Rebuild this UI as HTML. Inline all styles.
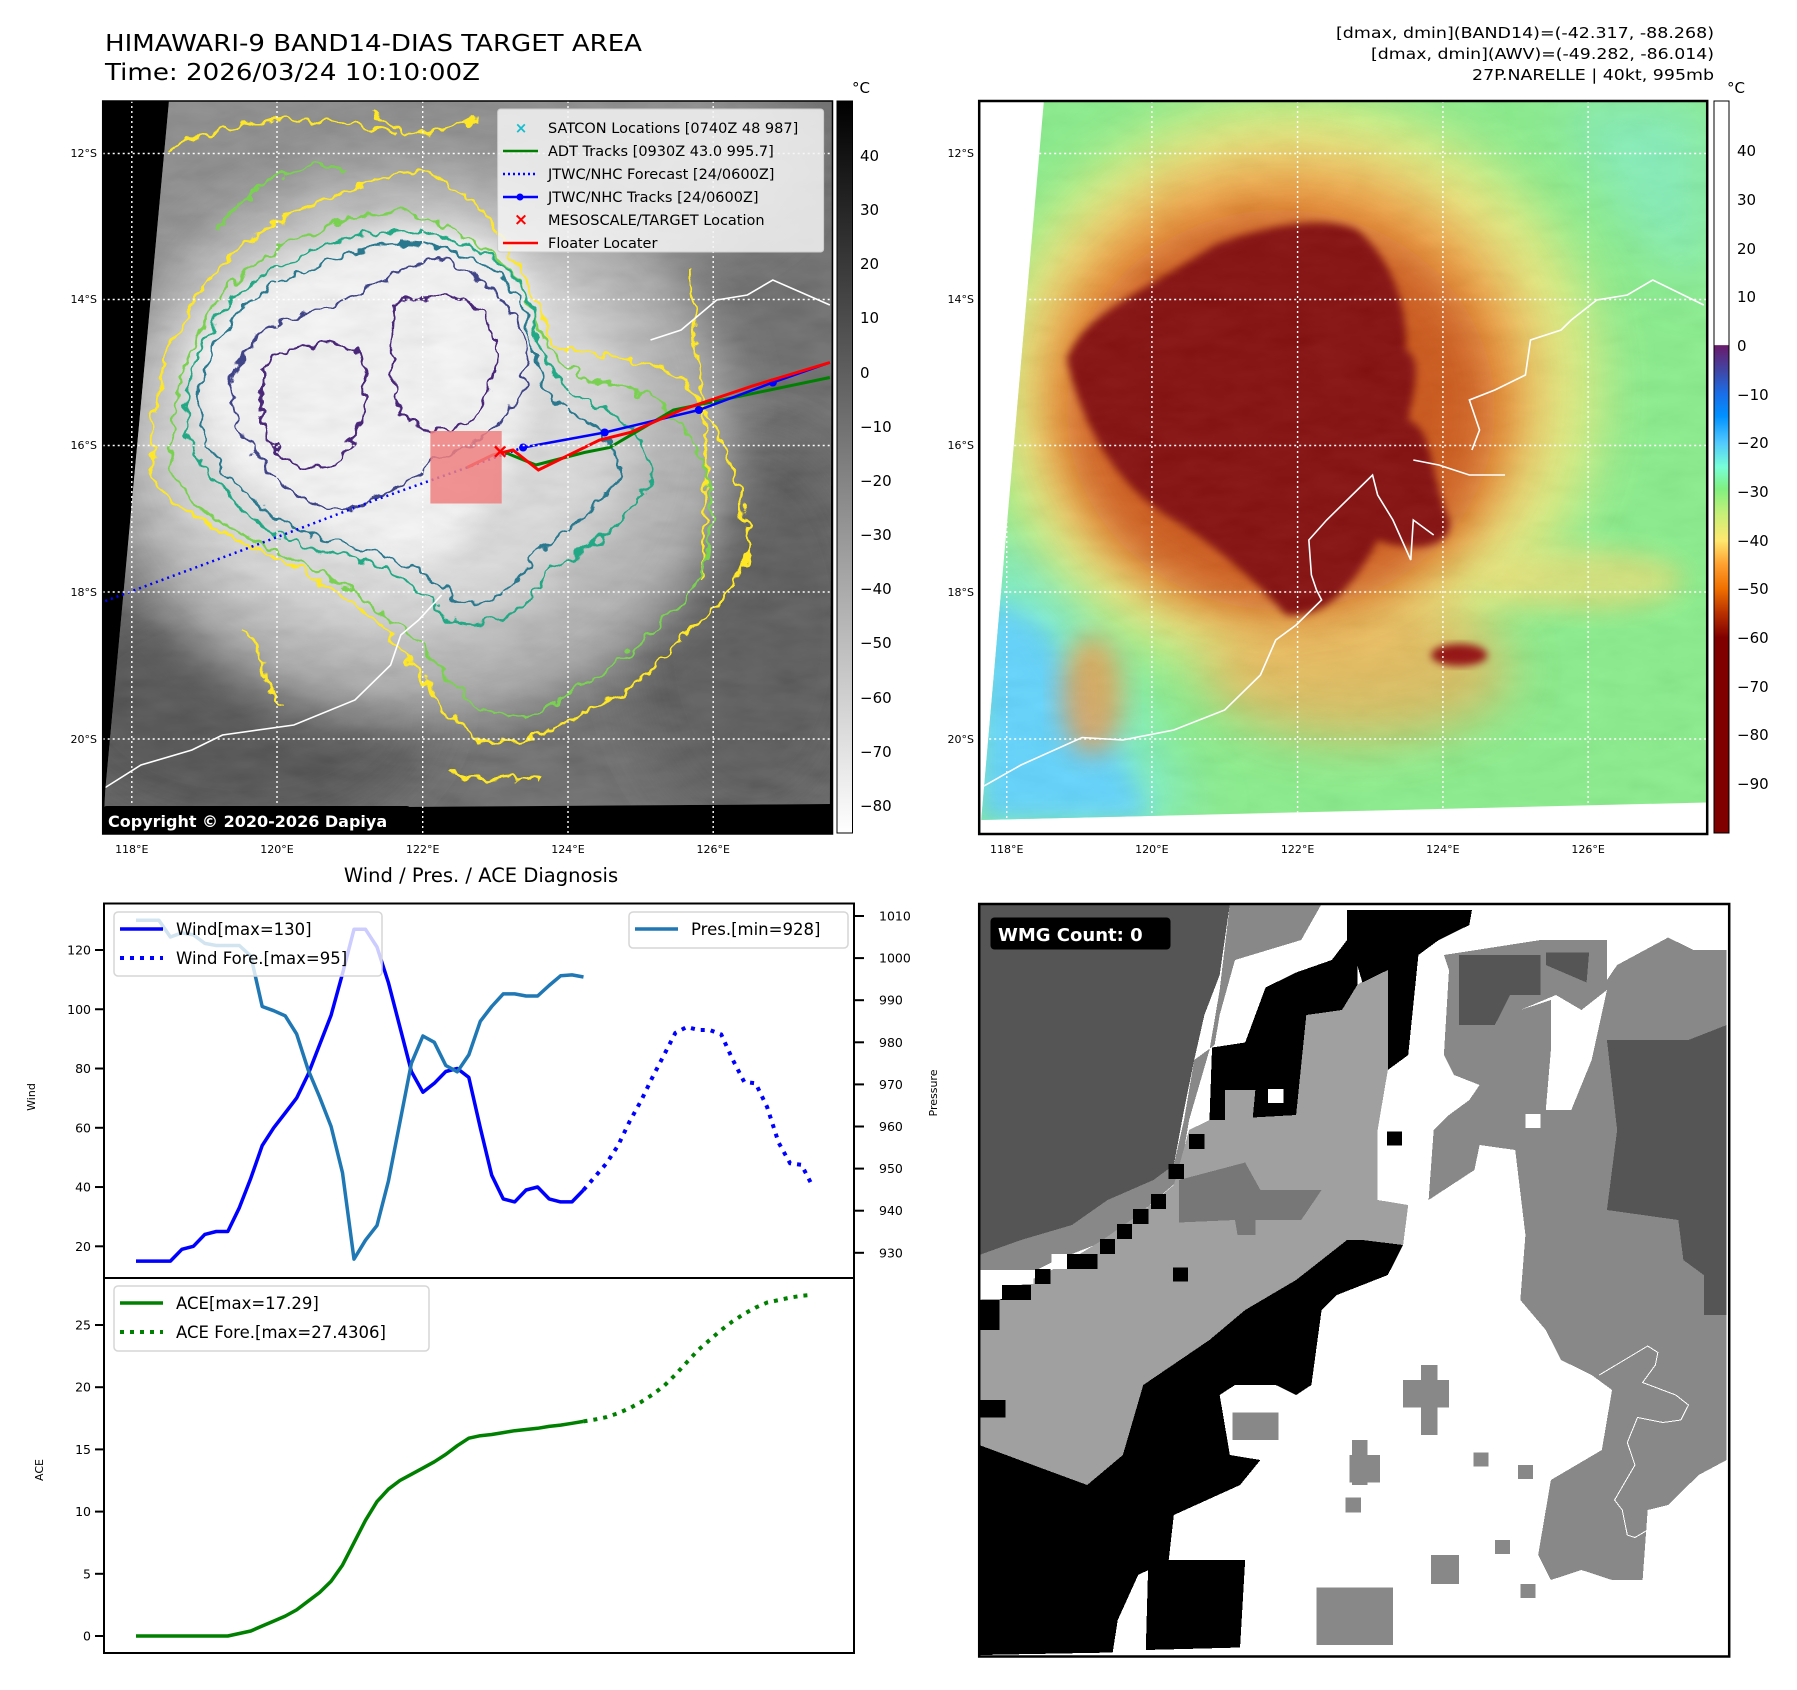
<!DOCTYPE html>
<html><head><meta charset="utf-8"><title>HIMAWARI-9 BAND14 DIAS Target Area</title>
<style>html,body{margin:0;padding:0;background:#fff}svg{display:block}text{font-family:"DejaVu Sans","Liberation Sans",sans-serif}</style></head>
<body>
<svg id="fig" width="1797" height="1690" viewBox="0 0 1797 1690" xmlns="http://www.w3.org/2000/svg">
<defs>
  <filter id="b8" x="-20%" y="-20%" width="140%" height="140%"><feGaussianBlur stdDeviation="8"/></filter>
  <filter id="b25" x="-30%" y="-30%" width="160%" height="160%"><feGaussianBlur stdDeviation="25"/></filter>
  <filter id="b50" x="-40%" y="-40%" width="180%" height="180%"><feGaussianBlur stdDeviation="50"/></filter>
  <filter id="wig" x="-10%" y="-10%" width="120%" height="120%"><feTurbulence type="fractalNoise" baseFrequency="0.035" numOctaves="2" seed="4" result="n"/><feDisplacementMap in="SourceGraphic" in2="n" scale="34" xChannelSelector="R" yChannelSelector="G"/></filter>
  <filter id="tex" x="0" y="0" width="100%" height="100%"><feTurbulence type="fractalNoise" baseFrequency="0.012 0.03" numOctaves="3" seed="7"/><feColorMatrix type="matrix" values="0.33 0.33 0.33 0 0 0.33 0.33 0.33 0 0 0.33 0.33 0.33 0 0 0 0 0 0 1"/></filter>
  <clipPath id="clipL"><polygon points="155,42 1457,42 1452,1448 28,1458 30,1420"/></clipPath>
  <clipPath id="clipR"><polygon points="145,42 1445,42 1445,1445 22,1480"/></clipPath>
  <clipPath id="clipW"><rect x="18" y="28" width="1472" height="1505"/></clipPath>
  <linearGradient id="grayBar" x1="0" y1="0" x2="0" y2="1"><stop offset="0" stop-color="#000"/><stop offset="1" stop-color="#fff"/></linearGradient>
  <linearGradient id="colBar" x1="0" y1="0" x2="0" y2="1">
    <stop offset="0" stop-color="#fff"/><stop offset="0.333" stop-color="#fff"/>
    <stop offset="0.334" stop-color="#6a1a6a"/><stop offset="0.37" stop-color="#3f48a8"/>
    <stop offset="0.40" stop-color="#1a6ee8"/><stop offset="0.43" stop-color="#0090ff"/>
    <stop offset="0.466" stop-color="#50c8ff"/><stop offset="0.50" stop-color="#78ffd8"/>
    <stop offset="0.53" stop-color="#80f080"/><stop offset="0.565" stop-color="#c8f078"/>
    <stop offset="0.60" stop-color="#ffe870"/><stop offset="0.633" stop-color="#ffa030"/>
    <stop offset="0.666" stop-color="#f07000"/><stop offset="0.70" stop-color="#b83000"/>
    <stop offset="0.733" stop-color="#800000"/><stop offset="1" stop-color="#800000"/>
  </linearGradient>
</defs>

<!-- Titles -->
<text x="105" y="51" font-size="23" textLength="537" lengthAdjust="spacingAndGlyphs">HIMAWARI-9 BAND14-DIAS TARGET AREA</text>
<text x="105" y="80" font-size="23" textLength="375" lengthAdjust="spacingAndGlyphs">Time: 2026/03/24 10:10:00Z</text>
<text x="1336" y="38" font-size="15" textLength="378" lengthAdjust="spacingAndGlyphs">[dmax, dmin](BAND14)=(-42.317, -88.268)</text>
<text x="1371" y="59" font-size="15" textLength="343" lengthAdjust="spacingAndGlyphs">[dmax, dmin](AWV)=(-49.282, -86.014)</text>
<text x="1472" y="80" font-size="15" textLength="242" lengthAdjust="spacingAndGlyphs">27P.NARELLE | 40kt, 995mb</text>

<!-- LEFT MAP -->
<g>
<rect x="102.7" y="101" width="729.8" height="733" fill="#000"/>
<g transform="translate(90,80) scale(0.50955,0.5)">
  <g clip-path="url(#clipL)">
    <rect x="0" y="0" width="1500" height="1500" fill="#626262"/>
    <ellipse cx="600" cy="150" rx="800" ry="300" fill="#858585" filter="url(#b50)"/>
    <ellipse cx="300" cy="1250" rx="380" ry="260" fill="#444" filter="url(#b50)"/>
    <ellipse cx="1300" cy="1100" rx="250" ry="400" fill="#505050" filter="url(#b50)"/>
    <ellipse cx="640" cy="720" rx="620" ry="560" fill="#b0b0b0" filter="url(#b50)"/>
    <ellipse cx="600" cy="690" rx="470" ry="420" fill="#dedede" filter="url(#b50)"/>
    <path d="M200,560 C230,430 400,370 520,320 C650,270 780,300 840,380 C880,460 880,560 860,640 C830,760 760,900 680,960 C600,1000 500,930 420,880 C300,820 210,720 200,560 Z" fill="#fbfbfb" filter="url(#b25)"/>
    <rect x="0" y="0" width="1500" height="1500" filter="url(#tex)" opacity="0.18"/>
    <g filter="url(#wig)" fill="none" stroke-linejoin="round">
      <path d="M125,790 C110,600 180,430 300,330 C400,250 500,230 560,200 C650,160 700,200 760,250 C820,330 880,420 900,520 C960,560 1080,540 1170,600 C1230,700 1300,820 1290,960 C1250,1050 1130,1140 1060,1220 C960,1260 900,1320 800,1330 C700,1300 660,1200 580,1100 C480,1000 380,960 300,930 C230,880 160,860 125,790 Z M150,140 C300,60 500,70 600,110 M550,60 C650,150 700,90 760,80 M1180,380 C1200,600 1220,800 1200,1000 M300,1100 C360,1160 320,1200 380,1250 M700,1380 C760,1420 820,1380 880,1400" stroke="#fde725" stroke-width="2.6" vector-effect="non-scaling-stroke"/>
      <path d="M160,780 C150,600 220,450 320,370 C420,300 520,270 600,260 C700,280 800,340 850,420 C880,500 900,560 980,600 C1080,600 1160,660 1200,760 C1240,880 1220,980 1150,1060 C1060,1150 980,1200 880,1270 C800,1290 720,1250 680,1160 C600,1080 500,1000 380,950 C280,900 190,860 160,780 Z M250,300 C320,200 420,150 500,180" stroke="#7ad151" stroke-width="2.4" vector-effect="non-scaling-stroke"/>
      <path d="M190,700 C180,560 250,440 360,380 C460,320 560,300 640,300 C740,320 820,360 860,440 C880,520 900,600 960,640 C1040,660 1100,720 1100,800 C1060,880 980,940 900,980 C860,1060 780,1110 700,1080 C640,1000 560,960 440,940 C320,900 220,800 190,700 Z" stroke="#22a884" stroke-width="2.4" vector-effect="non-scaling-stroke"/>
      <path d="M215,680 C210,560 270,460 380,400 C480,350 570,320 650,330 C750,340 820,390 850,460 C870,540 880,600 920,650 C980,680 1040,720 1040,790 C1000,860 940,900 880,940 C840,1020 780,1060 720,1040 C660,980 580,940 460,920 C340,880 240,790 215,680 Z" stroke="#2a788e" stroke-width="2.4" vector-effect="non-scaling-stroke"/>
      <path d="M280,600 C300,500 400,470 480,450 C560,420 600,370 680,360 C780,380 850,470 860,560 C860,640 800,700 740,730 C680,760 620,800 560,840 C480,880 410,840 360,790 C300,720 270,670 280,600 Z" stroke="#414487" stroke-width="2.4" vector-effect="non-scaling-stroke"/>
      <path d="M340,580 C370,530 450,520 520,540 C560,600 540,700 480,770 C420,790 360,760 340,690 Z M600,450 C660,420 740,430 780,470 C810,540 800,630 740,690 C680,710 620,700 600,640 C590,560 585,500 600,450 Z" stroke="#482878" stroke-width="2.4" vector-effect="non-scaling-stroke"/>
    </g>
    <path d="M30,1415 L100,1370 L200,1340 L260,1310 L400,1290 L520,1240 L590,1170 L610,1110 L645,1080 L690,1030 M1100,520 L1160,500 L1230,440 L1290,430 L1340,400 L1452,450" fill="none" stroke="#fff" stroke-width="1.6" vector-effect="non-scaling-stroke"/>
  </g>
  <polyline points="30,1042 300,940 560,840 740,775 850,735" fill="none" stroke="#0000ff" stroke-width="2.5" stroke-dasharray="2,4" vector-effect="non-scaling-stroke"/>
  <polyline points="815,745 875,770 970,745 1020,735 1145,660 1452,595" fill="none" stroke="#008000" stroke-width="3" vector-effect="non-scaling-stroke"/>
  <polyline points="850,735 1010,705 1195,660 1340,605 1452,565" fill="none" stroke="#0000ff" stroke-width="2.5" vector-effect="non-scaling-stroke"/>
  <g fill="#0000ff"><ellipse cx="1010" cy="705" rx="8" ry="8"/><ellipse cx="1195" cy="660" rx="8" ry="8"/><ellipse cx="1340" cy="605" rx="8" ry="8"/><ellipse cx="850" cy="735" rx="8" ry="8"/></g>
  <polyline points="740,775 790,750 830,740 880,780 1000,720 1060,705 1160,660 1300,612 1452,565" fill="none" stroke="#ff0000" stroke-width="3" vector-effect="non-scaling-stroke"/>
  <rect x="668" y="702" width="140" height="145" fill="#f08080" opacity="0.85"/>
  <text x="805" y="742" fill="#ff0000" font-size="40" font-weight="bold" text-anchor="middle" dominant-baseline="central">×</text>
</g>
<g stroke="#fff" stroke-width="1.4" stroke-dasharray="2,3">
  <line x1="131.8" y1="101" x2="131.8" y2="834"/><line x1="277" y1="101" x2="277" y2="834"/><line x1="422.7" y1="101" x2="422.7" y2="834"/><line x1="568" y1="101" x2="568" y2="834"/><line x1="713.2" y1="101" x2="713.2" y2="834"/>
  <line x1="102.7" y1="153.5" x2="832.5" y2="153.5"/><line x1="102.7" y1="299.5" x2="832.5" y2="299.5"/><line x1="102.7" y1="445.5" x2="832.5" y2="445.5"/><line x1="102.7" y1="592" x2="832.5" y2="592"/><line x1="102.7" y1="739" x2="832.5" y2="739"/>
</g>
<rect x="102.7" y="101" width="729.8" height="733" fill="none" stroke="#000" stroke-width="1.5"/>
<g>
  <rect x="497.6" y="109" width="326" height="143" rx="3" fill="rgba(245,245,245,0.85)" stroke="#ccc"/>
  <text x="521" y="128" fill="#17becf" font-size="15" font-weight="bold" text-anchor="middle" dominant-baseline="central">×</text>
  <line x1="503" y1="151" x2="538" y2="151" stroke="#008000" stroke-width="2.5"/>
  <line x1="503" y1="174" x2="538" y2="174" stroke="#0000ff" stroke-width="2.5" stroke-dasharray="2,3"/>
  <line x1="503" y1="197" x2="538" y2="197" stroke="#0000ff" stroke-width="2.5"/><circle cx="520" cy="197" r="3.5" fill="#0000ff"/>
  <text x="521" y="220" fill="#ff0000" font-size="17" font-weight="bold" text-anchor="middle" dominant-baseline="central">×</text>
  <line x1="503" y1="243" x2="538" y2="243" stroke="#ff0000" stroke-width="2.5"/>
  <g font-size="14.5">
    <text x="548" y="133">SATCON Locations [0740Z 48 987]</text>
    <text x="548" y="156">ADT Tracks [0930Z 43.0 995.7]</text>
    <text x="548" y="179">JTWC/NHC Forecast [24/0600Z]</text>
    <text x="548" y="202">JTWC/NHC Tracks [24/0600Z]</text>
    <text x="548" y="225">MESOSCALE/TARGET Location</text>
    <text x="548" y="248">Floater Locater</text>
  </g>
</g>
<g>
  <rect x="102.7" y="806" width="308" height="28" rx="4" fill="#000"/>
  <text x="108" y="827" fill="#fff" font-size="16" font-weight="bold">Copyright © 2020-2026 Dapiya</text>
</g>
<g font-size="11" text-anchor="end">
  <text x="97" y="157">12°S</text><text x="97" y="303">14°S</text><text x="97" y="449">16°S</text><text x="97" y="596">18°S</text><text x="97" y="743">20°S</text>
</g>
<g font-size="11" text-anchor="middle">
  <text x="131.8" y="853">118°E</text><text x="277" y="853">120°E</text><text x="422.7" y="853">122°E</text><text x="568" y="853">124°E</text><text x="713.2" y="853">126°E</text>
</g>
<g>
  <rect x="837" y="101" width="15.5" height="732" fill="url(#grayBar)" stroke="#000" stroke-width="1"/>
  <text x="852" y="93" font-size="15">°C</text>
  <g font-size="15">
    <text x="860" y="161">40</text><text x="860" y="215">30</text><text x="860" y="269">20</text><text x="860" y="323">10</text><text x="860" y="378">0</text><text x="860" y="432">−10</text><text x="860" y="486">−20</text><text x="860" y="540">−30</text><text x="860" y="594">−40</text><text x="860" y="648">−50</text><text x="860" y="703">−60</text><text x="860" y="757">−70</text><text x="860" y="811">−80</text>
  </g>
</g>

<!-- RIGHT MAP -->
<g>
<rect x="979.2" y="101" width="728" height="733" fill="#fff"/>
<g transform="translate(970,80) scale(0.50955,0.5)">
  <g clip-path="url(#clipR)">
    <rect x="0" y="0" width="1500" height="1500" fill="#86f088"/>
    <path d="M22,880 L200,1000 L330,1250 L450,1480 L22,1480 Z" fill="#78f0c8" filter="url(#b50)"/>
    <path d="M22,1020 L140,1090 L250,1260 L360,1480 L22,1480 Z" fill="#5cd4ff" filter="url(#b25)"/>
    <path d="M1150,42 L1445,42 L1445,420 L1300,300 Z" fill="#80f0b8" filter="url(#b50)"/>
    <ellipse cx="640" cy="620" rx="600" ry="580" fill="#f4f07c" filter="url(#b50)" opacity="0.85"/>
    <ellipse cx="620" cy="620" rx="490" ry="470" fill="#f6a844" filter="url(#b50)"/>
    <ellipse cx="760" cy="1180" rx="300" ry="140" fill="#f0b050" filter="url(#b50)" opacity="0.8"/>
    <ellipse cx="240" cy="1230" rx="60" ry="120" fill="#f09a40" filter="url(#b25)" opacity="0.8"/>
    <ellipse cx="1200" cy="1000" rx="200" ry="60" fill="#f4e070" filter="url(#b25)" opacity="0.7"/>
    <ellipse cx="610" cy="660" rx="420" ry="400" fill="#cc5010" filter="url(#b50)"/>
    <path d="M190,560 C220,470 330,430 480,330 C580,290 700,270 760,300 C830,360 860,460 855,540 C890,560 870,620 860,680 C910,700 900,780 940,880 C950,930 880,950 800,920 C760,1000 700,1080 620,1070 C560,1000 480,930 400,880 C300,820 230,720 190,560 Z" fill="#800000" filter="url(#b8)"/>
    <ellipse cx="960" cy="1150" rx="55" ry="22" fill="#900000" filter="url(#b8)"/>
    <rect x="0" y="0" width="1500" height="1500" filter="url(#tex)" opacity="0.12"/>
    <path d="M22,1415 L100,1370 L220,1315 L300,1320 L400,1300 L500,1260 L570,1190 L600,1120 L640,1090 L690,1040 L680,1020 L670,990 L665,920 L700,880 L760,820 L790,790 L800,830 L830,880 L865,960 L870,880 L910,910 M870,760 L920,770 L980,790 L1050,790 M985,740 L1000,700 L980,640 L1030,620 L1090,590 L1100,520 L1160,500 L1180,480 L1230,440 L1290,430 L1340,400 L1440,450" fill="none" stroke="#fff" stroke-width="1.6" vector-effect="non-scaling-stroke"/>
  </g>
</g>
</g>
<g stroke="#fff" stroke-width="1.4" stroke-dasharray="2,3">
  <line x1="1006.7" y1="101" x2="1006.7" y2="834"/><line x1="1151.9" y1="101" x2="1151.9" y2="834"/><line x1="1297.6" y1="101" x2="1297.6" y2="834"/><line x1="1442.9" y1="101" x2="1442.9" y2="834"/><line x1="1588.1" y1="101" x2="1588.1" y2="834"/>
  <line x1="979.2" y1="153.5" x2="1707.3" y2="153.5"/><line x1="979.2" y1="299.5" x2="1707.3" y2="299.5"/><line x1="979.2" y1="445.5" x2="1707.3" y2="445.5"/><line x1="979.2" y1="592" x2="1707.3" y2="592"/><line x1="979.2" y1="739" x2="1707.3" y2="739"/>
</g>
<rect x="979.2" y="101" width="728" height="733" fill="none" stroke="#000" stroke-width="2.5"/>
<g font-size="11" text-anchor="end">
  <text x="974" y="157">12°S</text><text x="974" y="303">14°S</text><text x="974" y="449">16°S</text><text x="974" y="596">18°S</text><text x="974" y="743">20°S</text>
</g>
<g font-size="11" text-anchor="middle">
  <text x="1006.7" y="853">118°E</text><text x="1151.9" y="853">120°E</text><text x="1297.6" y="853">122°E</text><text x="1442.9" y="853">124°E</text><text x="1588.1" y="853">126°E</text>
</g>
<g>
  <rect x="1714" y="101" width="15" height="732" fill="url(#colBar)" stroke="#000" stroke-width="1"/>
  <text x="1727" y="93" font-size="15">°C</text>
  <g font-size="15">
    <text x="1737" y="156">40</text><text x="1737" y="205">30</text><text x="1737" y="254">20</text><text x="1737" y="302">10</text><text x="1737" y="351">0</text><text x="1737" y="400">−10</text><text x="1737" y="448">−20</text><text x="1737" y="497">−30</text><text x="1737" y="546">−40</text><text x="1737" y="594">−50</text><text x="1737" y="643">−60</text><text x="1737" y="692">−70</text><text x="1737" y="740">−80</text><text x="1737" y="789">−90</text>
  </g>
</g>

<!-- WMG panel -->
<g>
<rect x="979.2" y="904" width="750" height="752.5" fill="#fff"/>
<g transform="translate(970,890) scale(0.50955,0.5)" clip-path="url(#clipW)" shape-rendering="crispEdges">
  <polygon fill="#555" points="18,28 510,28 490,170 460,250 440,340 420,440 400,550 360,580 270,620 200,670 100,700 18,730"/>
  <polygon fill="#888" points="510,28 690,28 650,100 520,140 490,250 480,310 440,340 420,460 400,550 360,580 270,620 200,670 100,700 18,730 18,760 130,760 170,740 270,700 330,650 410,580 430,460 470,320 490,200"/>
  <polygon fill="#a0a0a0" points="18,820 100,790 180,750 260,700 330,650 400,590 430,480 470,460 500,400 560,400 555,455 640,450 660,250 730,240 760,190 850,130 880,130 860,330 820,360 800,480 800,620 860,630 850,710 770,700 740,700 640,780 540,840 470,900 340,990 300,1130 230,1190 150,1160 18,1110"/>
  <polygon fill="#000" points="740,40 985,40 980,70 920,100 880,130 860,330 820,360 800,480 800,620 860,630 850,710 820,770 720,810 690,840 670,990 640,1010 600,990 520,990 490,1010 510,1130 570,1140 530,1190 400,1250 390,1340 330,1370 290,1460 280,1525 18,1530 18,1110 150,1160 230,1190 300,1130 340,990 470,900 540,840 640,780 740,700 770,700 850,710 860,630 800,620 800,480 820,360 760,150 760,190 730,240 660,250 640,450 555,455 560,400 500,400 500,460 470,460 475,315 540,305 580,195 640,165 710,140 740,100"/>
  <polygon fill="#a0a0a0" points="660,250 730,240 760,190 820,160 820,360 800,480 700,500 690,600 650,600 640,450"/>
  <polygon fill="#000" points="350,1340 540,1340 530,1515 345,1520"/>
  <polygon fill="#000" points="18,1020 70,1020 70,1055 18,1055"/>
  <polygon fill="#777" points="410,580 540,545 570,600 690,600 650,660 560,660 560,690 525,690 520,660 410,665"/>
  <polygon fill="#888" points="930,130 1120,100 1250,100 1250,180 1270,150 1370,95 1420,120 1485,120 1485,1140 1430,1170 1370,1230 1330,1240 1320,1380 1260,1380 1200,1360 1140,1380 1115,1330 1140,1180 1240,1120 1260,1000 1220,970 1160,940 1130,880 1080,820 1090,690 1070,520 1000,510 990,560 930,600 900,620 910,480 940,450 980,420 1000,390 950,370 930,330 940,160"/>
  <polygon fill="#fff" points="1080,240 1140,220 1140,320 1130,440 1180,440 1220,340 1250,200 1200,240 1150,210"/>
  <polygon fill="#555" points="1250,300 1410,300 1485,270 1485,850 1440,850 1440,770 1400,740 1390,660 1250,640 1270,480"/>
  <polygon fill="#555" points="960,130 1120,130 1120,210 1060,210 1030,270 960,270"/>
  <polygon fill="#555" points="1130,125 1215,125 1210,185 1130,150"/>
  <g fill="#888"><rect x="850" y="980" width="90" height="55"/><rect x="885" y="950" width="32" height="140"/><rect x="745" y="1130" width="60" height="55"/><rect x="750" y="1100" width="30" height="90"/><rect x="988" y="1125" width="30" height="28"/><rect x="1075" y="1150" width="30" height="28"/><rect x="737" y="1215" width="30" height="30"/><rect x="1030" y="1300" width="30" height="28"/><rect x="1080" y="1388" width="30" height="28"/><rect x="905" y="1330" width="55" height="58"/><rect x="680" y="1395" width="150" height="115"/><rect x="515" y="1045" width="90" height="55"/></g>
  <g fill="#000"><rect x="818" y="483" width="30" height="28"/><rect x="398" y="755" width="30" height="28"/><rect x="430" y="488" width="30" height="30"/><rect x="390" y="548" width="30" height="30"/><rect x="355" y="608" width="30" height="30"/><rect x="320" y="638" width="30" height="30"/><rect x="288" y="668" width="30" height="30"/><rect x="255" y="698" width="30" height="30"/><rect x="190" y="728" width="60" height="30"/><rect x="128" y="758" width="30" height="30"/><rect x="60" y="790" width="60" height="30"/><rect x="18" y="820" width="40" height="60"/></g>
  <g fill="#fff"><rect x="585" y="398" width="30" height="28"/><rect x="160" y="728" width="30" height="30"/><rect x="35" y="760" width="90" height="28"/><rect x="18" y="788" width="45" height="30"/><rect x="1090" y="448" width="30" height="28"/></g>
  <path d="M1235,970 L1330,912 L1350,925 L1345,950 L1320,985 L1385,1010 L1410,1030 L1395,1060 L1360,1065 L1310,1055 L1290,1105 L1305,1150 L1265,1220 L1280,1240 L1290,1290 L1305,1295 L1330,1280" fill="none" stroke="#fff" stroke-width="1" vector-effect="non-scaling-stroke"/>
</g>
<rect x="979.2" y="904" width="750" height="752.5" fill="none" stroke="#000" stroke-width="2.5"/>
<g>
  <rect x="990.5" y="917.5" width="180" height="32" rx="4" fill="#000"/>
  <text x="998" y="941" fill="#fff" font-size="18" font-weight="bold">WMG Count: 0</text>
</g>
</g>

<!-- Charts -->
<text x="481" y="882" font-size="19.5" text-anchor="middle">Wind / Pres. / ACE Diagnosis</text>
<g id="charts"></g>

<script>
// time-step indices: historical k=0..39, forecast k=39..59
const windHist = [15,15,15,15,19,20,24,25,25,33,43,54,60,65,70,78,88,98,112,127,127,121,109,94,79,72,75,79,80,77,60,44,36,35,39,40,36,35,35,39];
const windFore = [39,43.5,48,54,62,69,77,84.5,92,94,93,93,91.5,83,75.5,75,67,55,48,47.5,40];
const presHist = [1009,1009,1009,1005,1006,1005.5,1003.5,1003,1003,1003,1000.5,988.5,987.5,986.3,982,973.5,967,960,949,928.5,933,936.5,947,961,975,981.5,980,974.5,973,977,985,988.5,991.5,991.5,991,991,993.5,995.8,996,995.5];
const aceHist = [0,0,0,0,0,0,0,0,0,0.2,0.4,0.8,1.2,1.6,2.1,2.8,3.5,4.4,5.7,7.5,9.3,10.8,11.8,12.5,13.0,13.5,14.0,14.6,15.3,15.9,16.1,16.2,16.35,16.5,16.6,16.7,16.85,16.95,17.1,17.25];
const aceFore = [17.25,17.4,17.6,17.9,18.3,18.8,19.4,20.1,21.0,22.0,23.0,23.8,24.6,25.3,25.9,26.4,26.8,27.0,27.2,27.35,27.43];
const windTicks = [20,40,60,80,100,120];
const presTicks = [930,940,950,960,970,980,990,1000,1010];
const aceTicks = [0,5,10,15,20,25];
const foreStart = 39;

const NS = 'http://www.w3.org/2000/svg';
const root = document.getElementById('charts');
const L = 104, R = 854, WT = 903.5, WB = 1278, AT = 1278, AB = 1653;
function xScale(k){ return 136 + k * 11.475; }
function yWind(v){ return 1246.3 - (v - 20) * 2.963; }
function yPres(p){ return 916 + (1010 - p) * 4.21; }
function yAce(a){ return 1636 - a * 12.44; }
function mk(tag, attrs, parent){ const e = document.createElementNS(NS, tag); for (const k in attrs) e.setAttribute(k, attrs[k]); (parent || root).appendChild(e); return e; }
function pts(arr, off, yf){ return arr.map((v,i) => xScale(i + off).toFixed(1) + ',' + yf(v).toFixed(1)).join(' '); }

const wax = mk('rect', {x:L, y:WT, width:R-L, height:WB-WT, fill:'none', stroke:'#000', 'stroke-width':2});


const aax = mk('rect', {x:L, y:AT, width:R-L, height:AB-AT, fill:'none', stroke:'#000', 'stroke-width':2});



windTicks.forEach(t => {
  const y = yWind(t);
  mk('line', {x1:L-9, x2:L, y1:y, y2:y, stroke:'#000', 'stroke-width':2});
  const tx = mk('text', {x:L-13, y:y+4.5, 'font-size':12.5, 'text-anchor':'end'}); tx.textContent = t;
  
  
});
presTicks.forEach(t => {
  const y = yPres(t);
  mk('line', {x1:R, x2:R+10, y1:y, y2:y, stroke:'#000', 'stroke-width':2});
  const tx = mk('text', {x:R+25, y:y+4.5, 'font-size':12.5}); tx.textContent = t;
  
  
});
aceTicks.forEach(t => {
  const y = yAce(t);
  mk('line', {x1:L-9, x2:L, y1:y, y2:y, stroke:'#000', 'stroke-width':2});
  const tx = mk('text', {x:L-13, y:y+4.5, 'font-size':12.5, 'text-anchor':'end'}); tx.textContent = t;
  
  
});
const wl = mk('text', {x:0, y:0, 'font-size':11, 'text-anchor':'middle', transform:'translate(35,1097) rotate(-90)'}); wl.textContent = 'Wind';


const pl = mk('text', {x:0, y:0, 'font-size':11, 'text-anchor':'middle', transform:'translate(937,1093) rotate(-90)'}); pl.textContent = 'Pressure';


const al = mk('text', {x:0, y:0, 'font-size':11, 'text-anchor':'middle', transform:'translate(43,1470) rotate(-90)'}); al.textContent = 'ACE';



const wLine = mk('polyline', {points:pts(windHist,0,yWind), fill:'none', stroke:'#0000ff', 'stroke-width':3.5, 'stroke-linejoin':'round'});


const wfLine = mk('polyline', {points:pts(windFore,foreStart,yWind), fill:'none', stroke:'#0000ff', 'stroke-width':4, 'stroke-dasharray':'4,6'});


const pLine = mk('polyline', {points:pts(presHist,0,yPres), fill:'none', stroke:'#1f77b4', 'stroke-width':3.5, 'stroke-linejoin':'round'});


const aLine = mk('polyline', {points:pts(aceHist,0,yAce), fill:'none', stroke:'#008000', 'stroke-width':3.5, 'stroke-linejoin':'round'});


const afLine = mk('polyline', {points:pts(aceFore,foreStart,yAce), fill:'none', stroke:'#008000', 'stroke-width':4, 'stroke-dasharray':'4,6'});



function legend(name, x, y, w, h, rows){
  const g = mk('g', {});
  
  
  mk('rect', {x:x, y:y, width:w, height:h, rx:4, fill:'rgba(255,255,255,0.8)', stroke:'#d6d6d6', 'stroke-width':1.5}, g);
  rows.forEach((r, i) => {
    const cy = y + 17 + i * 29;
    const ln = mk('line', {x1:x+6, x2:x+49, y1:cy, y2:cy, stroke:r.c, 'stroke-width':r.d ? 4 : 3.5}, g);
    if (r.d) ln.setAttribute('stroke-dasharray', '4,6');
    const t = mk('text', {x:x+62, y:cy+6, 'font-size':16.5}, g); t.textContent = r.t;
  });
}
legend('wind-legend', 114, 912, 268, 64, [{c:'#0000ff', t:'Wind[max=130]'}, {c:'#0000ff', t:'Wind Fore.[max=95]', d:true}]);
legend('pressure-legend', 629, 912, 219, 36, [{c:'#1f77b4', t:'Pres.[min=928]'}]);
legend('ace-legend', 114, 1286, 315, 65, [{c:'#008000', t:'ACE[max=17.29]'}, {c:'#008000', t:'ACE Fore.[max=27.4306]', d:true}]);
</script>
</svg>
</body></html>
